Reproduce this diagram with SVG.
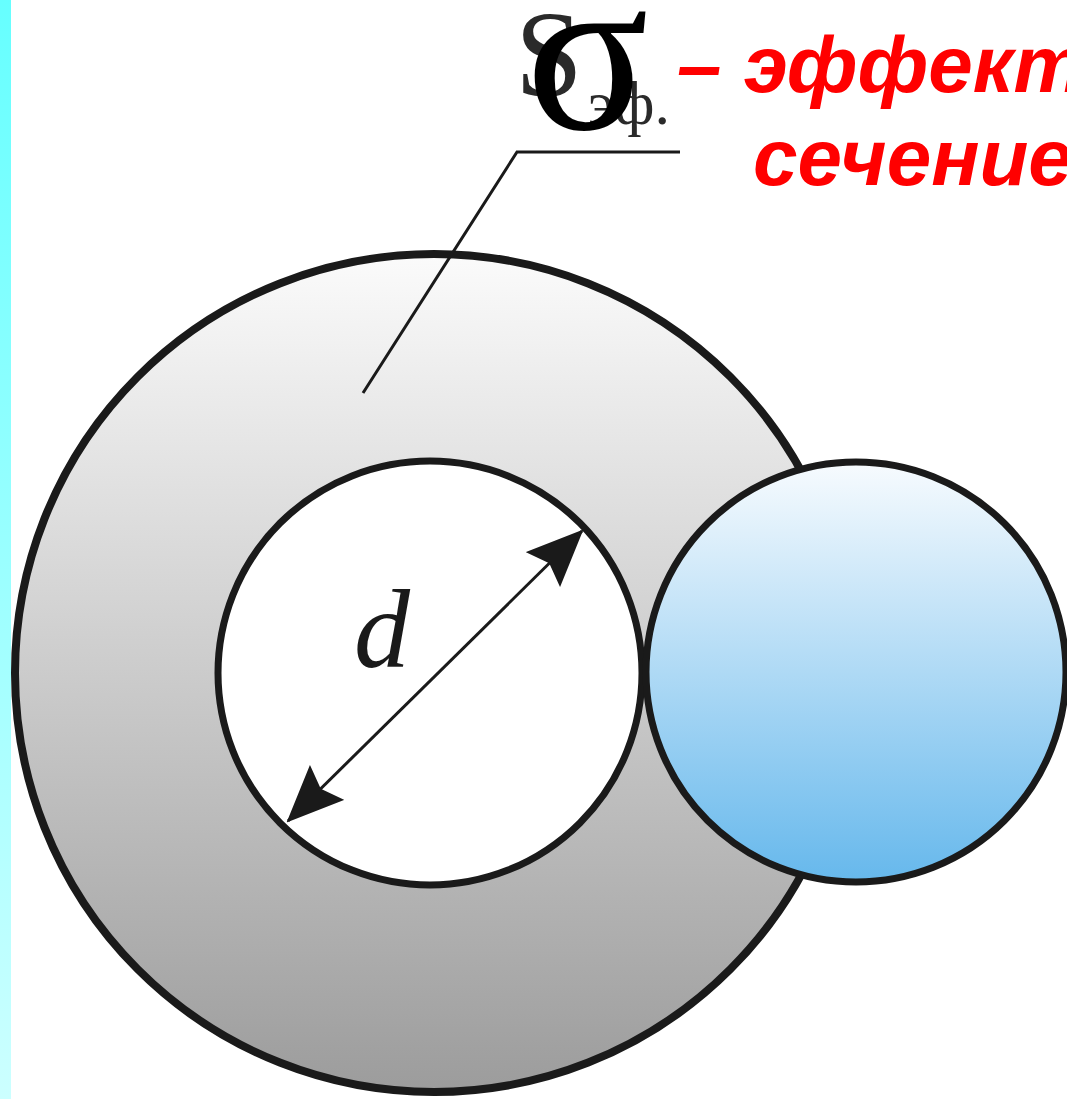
<svg xmlns="http://www.w3.org/2000/svg" width="1067" height="1099" viewBox="0 0 1067 1099">
<defs>
<linearGradient id="strip" x1="0" y1="0" x2="0" y2="1">
<stop offset="0" stop-color="#66FFFF"/>
<stop offset="1" stop-color="#CCFFFF"/>
</linearGradient>
<linearGradient id="gray" x1="0" y1="0" x2="0" y2="1">
<stop offset="0" stop-color="#FBFBFB"/>
<stop offset="1" stop-color="#9C9C9C"/>
</linearGradient>
<linearGradient id="blue" x1="0" y1="0" x2="0" y2="1">
<stop offset="0" stop-color="#F7FBFE"/>
<stop offset="1" stop-color="#66B8EC"/>
</linearGradient>
<marker id="ah" viewBox="0 0 57 49" refX="55" refY="24.5" markerWidth="57" markerHeight="49" markerUnits="userSpaceOnUse" orient="auto-start-reverse">
<path d="M0,0 L57,24.5 L0,49 L9,24.5 Z" fill="#1a1a1a"/>
</marker>
<style>
.ring{stroke:#1a1a1a;stroke-width:8}
.thin{stroke:#1a1a1a;stroke-width:3;fill:none}
.serif{font-family:"Liberation Serif","DejaVu Serif",serif}
.red{font-family:"Liberation Sans",Arial,sans-serif;font-weight:bold;font-style:italic;fill:#FF0000;font-size:80px}
</style>
</defs>
<rect width="1067" height="1099" fill="#FFFFFF"/>
<rect x="0" y="0" width="11" height="1099" fill="url(#strip)"/>
<g id="outer-circle">
<circle cx="434" cy="673" r="419" fill="url(#gray)" class="ring"/>
</g>
<g id="inner-circle">
<circle cx="430" cy="673" r="212" fill="#FFFFFF" class="ring" style="stroke-width:7"/>
</g>
<g id="blue-circle">
<circle cx="856" cy="672" r="210" fill="url(#blue)" class="ring" style="stroke-width:7"/>
</g>
<g id="connectors">
<line x1="288" y1="821" x2="582" y2="531" class="thin" marker-start="url(#ah)" marker-end="url(#ah)"/>
<polyline points="363,393 517,152 680,152" class="thin"/>
</g>
<g id="labels">
<text x="354" y="667" class="serif" font-style="italic" font-size="112" fill="#1a1a1a">d</text>
<text x="515" y="96" class="serif" font-size="122" fill="#2a2a2a">S</text>
<text x="588" y="124" class="serif" font-size="62" fill="#2a2a2a">эф.</text>
<text x="526" y="129" class="serif" font-size="228" fill="#000000">σ</text>
<text x="677" y="92" class="red">– эффективное</text>
<text x="753" y="185" class="red">сечение</text>
</g>
</svg>
